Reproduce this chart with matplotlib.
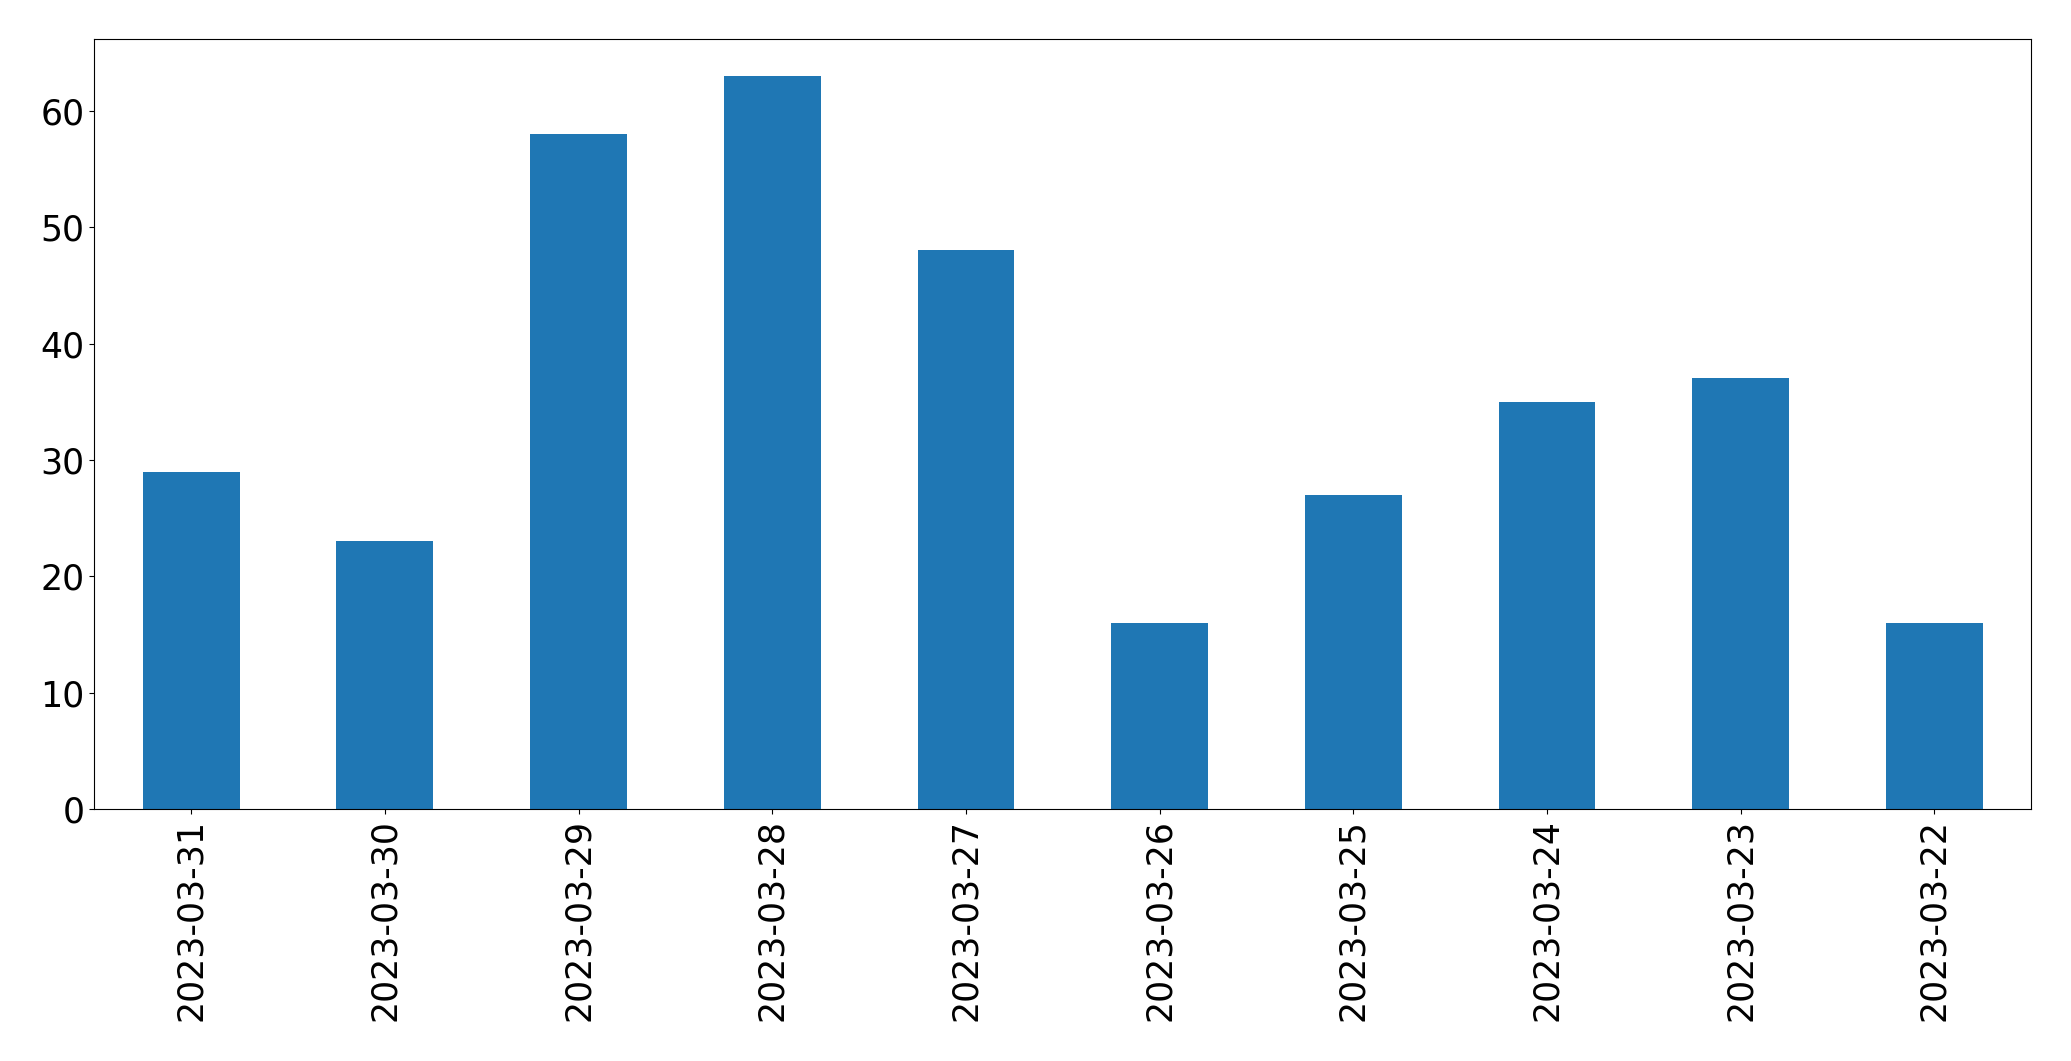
import matplotlib
matplotlib.use('Agg')
import matplotlib.pyplot as plt
import numpy as np

dates = ['2023-03-31', '2023-03-30', '2023-03-29', '2023-03-28', '2023-03-27',
         '2023-03-26', '2023-03-25', '2023-03-24', '2023-03-23', '2023-03-22']
counts = [29, 23, 58, 63, 48, 16, 27, 35, 37, 16]

fig = plt.figure(figsize=(20.71, 10.61), dpi=100)
ax = fig.add_axes([94.3/2071, 1 - 809/1061, (2031.3 - 94.3)/2071, (809 - 39.3)/1061])

x = np.arange(len(dates))
ax.bar(x, counts, width=0.5, color='#1f77b4')
ax.set_xlim(-0.5, len(dates) - 0.5)
ax.set_xticks(x)
ax.set_xticklabels(dates, rotation=90)
ax.tick_params(labelsize=25)

fig.savefig('out.png', dpi=100)
